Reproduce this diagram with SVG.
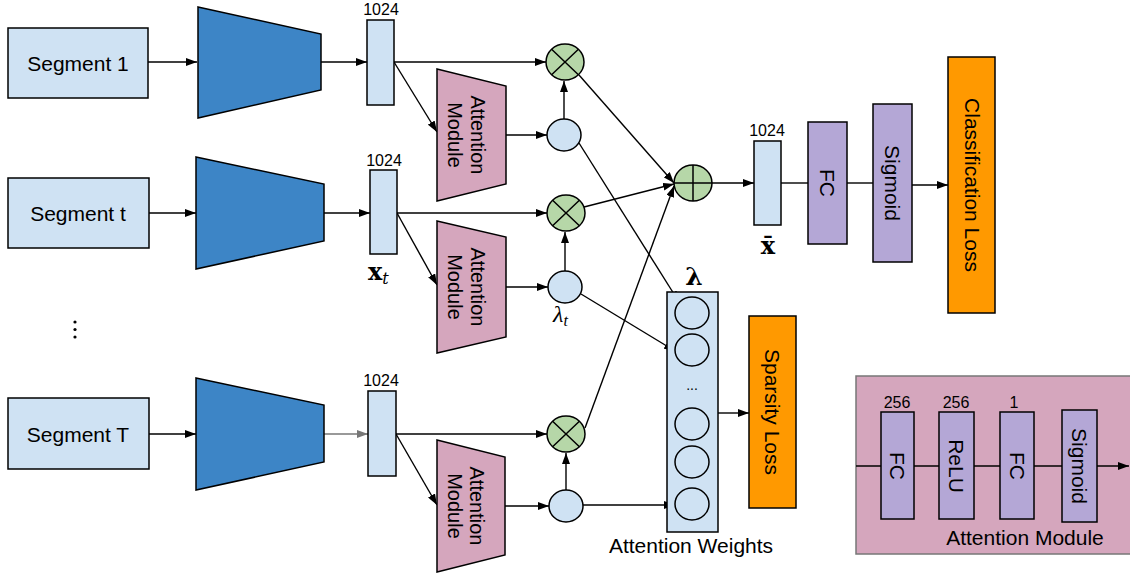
<svg xmlns="http://www.w3.org/2000/svg" width="1130" height="573" viewBox="0 0 1130 573">
<style>
.seg{fill:#cfe2f3;stroke:#000;stroke-width:1.5}
.enc{fill:#3d85c6;stroke:#000;stroke-width:1.5}
.vec{fill:#cfe2f3;stroke:#000;stroke-width:1.5}
.am{fill:#d5a6bd;stroke:#000;stroke-width:1.5}
.op{fill:#b6d7a8;stroke:#000;stroke-width:1.5}
.w{fill:#cfe2f3;stroke:#000;stroke-width:1.5}
.pur{fill:#b4a7d6;stroke:#000;stroke-width:1.5}
.loss{fill:#ff9900;stroke:#000;stroke-width:1.5}
.sym{stroke:#000;stroke-width:1.5;fill:none}
.t{font-family:"Liberation Sans",Arial,sans-serif;font-size:21px;fill:#000}
.n{font-family:"Liberation Sans",Arial,sans-serif;font-size:16px;fill:#000;text-anchor:middle}
.c{text-anchor:middle}
.m{font-family:"DejaVu Serif","Liberation Serif",serif;fill:#000}
.cn path,.cn line{stroke:#000;stroke-width:1.4;fill:none}
</style>
<defs>
<marker id="ah" markerUnits="userSpaceOnUse" markerWidth="11" markerHeight="8" refX="11" refY="4" orient="auto"><path d="M0,0 L11,4 L0,8 z" fill="#000"/></marker>
<marker id="ahg" markerUnits="userSpaceOnUse" markerWidth="11" markerHeight="8" refX="11" refY="4" orient="auto"><path d="M0,0 L11,4 L0,8 z" fill="#777"/></marker>
</defs>

<!-- connectors -->
<g id="connectors" class="cn">
<line x1="148" y1="62" x2="197" y2="62" marker-end="url(#ah)"/>
<line x1="321" y1="62" x2="367" y2="62" marker-end="url(#ah)"/>
<line x1="394" y1="62" x2="546" y2="62" marker-end="url(#ah)"/>
<line x1="394" y1="62" x2="437" y2="132" marker-end="url(#ah)"/>
<line x1="506" y1="135" x2="547" y2="135" marker-end="url(#ah)"/>
<line x1="564" y1="119" x2="564" y2="81" marker-end="url(#ah)"/>
<line x1="579" y1="75" x2="674" y2="183" marker-end="url(#ah)"/>
<line x1="579" y1="143" x2="679" y2="302" marker-end="url(#ah)"/>

<line x1="149" y1="213" x2="196" y2="213" marker-end="url(#ah)"/>
<line x1="324" y1="213" x2="370" y2="213" marker-end="url(#ah)"/>
<line x1="397" y1="213" x2="547" y2="213" marker-end="url(#ah)"/>
<line x1="397" y1="213" x2="437" y2="285" marker-end="url(#ah)"/>
<line x1="506" y1="287" x2="548" y2="287" marker-end="url(#ah)"/>
<line x1="565" y1="271" x2="565" y2="232" marker-end="url(#ah)"/>
<line x1="584" y1="207" x2="674" y2="184" marker-end="url(#ah)"/>
<line x1="581" y1="294" x2="675" y2="351" marker-end="url(#ah)"/>

<line x1="149" y1="434" x2="196" y2="434" marker-end="url(#ah)"/>
<line x1="324" y1="434" x2="368" y2="434" style="stroke:#777" marker-end="url(#ahg)"/>
<line x1="396" y1="434" x2="547" y2="434" marker-end="url(#ah)"/>
<line x1="396" y1="434" x2="437" y2="505" marker-end="url(#ah)"/>
<line x1="505" y1="506" x2="549" y2="506" marker-end="url(#ah)"/>
<line x1="566" y1="490" x2="566" y2="453" marker-end="url(#ah)"/>
<line x1="585" y1="428" x2="674" y2="186" marker-end="url(#ah)"/>
<line x1="583" y1="505" x2="675" y2="505" marker-end="url(#ah)"/>

<line x1="712" y1="183" x2="754" y2="183" marker-end="url(#ah)"/>
<line x1="781" y1="183" x2="808" y2="183"/>
<line x1="847" y1="183" x2="873" y2="183"/>
<line x1="912" y1="185" x2="948" y2="185" marker-end="url(#ah)"/>
<line x1="718" y1="413" x2="749" y2="413" marker-end="url(#ah)"/>
</g>

<!-- row 1 -->
<g id="segment1"><rect class="seg" x="8" y="28" width="140" height="70"/><text class="t c" x="78" y="71">Segment 1</text></g>
<g id="encoder1"><polygon class="enc" points="198,7 321,34 321,90 198,118"/></g>
<g id="feat1"><rect class="vec" x="367" y="20" width="27" height="85"/><text class="n" x="381" y="15">1024</text></g>
<g id="attn1"><polygon class="am" points="437,69 506,86 506,184 437,201"/>
<text class="t c" transform="translate(478,135) rotate(90)" dy="0.35em" style="font-size:20px">Attention</text>
<text class="t c" transform="translate(455,135) rotate(90)" dy="0.35em" style="font-size:20px">Module</text></g>
<g id="weight1"><ellipse class="w" cx="564" cy="135" rx="17" ry="16"/></g>
<g id="mult1"><ellipse class="op" cx="565" cy="62" rx="19" ry="18"/><path class="sym" d="M551.6,49.3 L578.4,74.7 M578.4,49.3 L551.6,74.7"/></g>

<!-- row 2 -->
<g id="segmentt"><rect class="seg" x="8" y="178" width="141" height="70"/><text class="t c" x="78" y="221">Segment t</text></g>
<g id="encoder2"><polygon class="enc" points="196,157 324,184 324,241 196,269"/></g>
<g id="feat2"><rect class="vec" x="370" y="170" width="27" height="84"/><text class="n" x="384" y="166">1024</text>
<text class="m" x="368" y="280" style="font-size:24px;font-weight:bold">x<tspan style="font-size:16px;font-weight:normal;font-style:italic" dy="4">t</tspan></text></g>
<g id="attn2"><polygon class="am" points="437,221 506,237 506,337 437,353"/>
<text class="t c" transform="translate(478,287) rotate(90)" dy="0.35em" style="font-size:20px">Attention</text>
<text class="t c" transform="translate(455,287) rotate(90)" dy="0.35em" style="font-size:20px">Module</text></g>
<g id="weight2"><ellipse class="w" cx="565" cy="287" rx="17" ry="16"/>
<text x="553" y="322" style="font-family:'Liberation Serif',serif;font-size:24px;font-style:italic">λ<tspan style="font-size:16px" dy="4">t</tspan></text></g>
<g id="mult2"><ellipse class="op" cx="566" cy="213" rx="19" ry="18"/><path class="sym" d="M552.6,200.3 L579.4,225.7 M579.4,200.3 L552.6,225.7"/></g>

<!-- dots -->
<g id="ellipsis"><circle cx="75" cy="322" r="1.6"/><circle cx="75" cy="329.5" r="1.6"/><circle cx="75" cy="337" r="1.6"/></g>

<!-- row 3 -->
<g id="segmentT"><rect class="seg" x="8" y="398" width="141" height="71"/><text class="t c" x="78" y="442">Segment T</text></g>
<g id="encoder3"><polygon class="enc" points="196,378 324,405 324,462 196,490"/></g>
<g id="feat3"><rect class="vec" x="368" y="391" width="28" height="85"/><text class="n" x="381" y="386">1024</text></g>
<g id="attn3"><polygon class="am" points="437,440 505,457 505,555 437,572"/>
<text class="t c" transform="translate(477,506) rotate(90)" dy="0.35em" style="font-size:20px">Attention</text>
<text class="t c" transform="translate(455,506) rotate(90)" dy="0.35em" style="font-size:20px">Module</text></g>
<g id="weight3"><ellipse class="w" cx="566" cy="506" rx="17" ry="16"/></g>
<g id="mult3"><ellipse class="op" cx="566" cy="434" rx="19" ry="18"/><path class="sym" d="M552.6,421.3 L579.4,446.7 M579.4,421.3 L552.6,446.7"/></g>

<!-- sum and head -->
<g id="sum"><ellipse class="op" cx="693" cy="183" rx="19" ry="18"/><path class="sym" d="M693,165 L693,201 M674,183 L712,183"/></g>
<g id="xbar"><rect class="vec" x="754" y="141" width="27" height="84"/><text class="n" x="767" y="136">1024</text>
<text class="m c" x="768" y="254" style="font-size:24px;font-weight:bold">x̄</text></g>
<g id="fc"><rect class="pur" x="808" y="122" width="39" height="122"/><text class="t c" transform="translate(827.5,183) rotate(90)" dy="0.35em">FC</text></g>
<g id="sigmoid"><rect class="pur" x="873" y="104" width="39" height="158"/><text class="t c" transform="translate(892.5,183) rotate(90)" dy="0.35em">Sigmoid</text></g>
<g id="clsloss"><rect class="loss" x="948" y="57" width="47" height="256"/><text class="t c" transform="translate(972,185) rotate(90)" dy="0.35em">Classification Loss</text></g>

<!-- attention weights -->
<g id="weights"><rect class="w" x="667" y="292" width="51" height="240"/>
<ellipse class="w" cx="692" cy="313" rx="17" ry="16"/>
<ellipse class="w" cx="692" cy="350" rx="17" ry="16"/>
<ellipse class="w" cx="692" cy="424" rx="17" ry="16"/>
<ellipse class="w" cx="692" cy="462" rx="17" ry="16"/>
<ellipse class="w" cx="692" cy="504" rx="17" ry="16"/>
<text class="t c" x="692" y="390" style="font-size:14px">...</text>
<text class="m c" x="694" y="285" style="font-size:25px;font-weight:bold">λ</text>
<text class="t c" x="691" y="553">Attention Weights</text></g>
<g id="sparsity"><rect class="loss" x="749" y="316" width="47" height="192"/><text class="t c" transform="translate(772.5,412) rotate(90)" dy="0.35em">Sparsity Loss</text></g>

<!-- attention module detail -->
<g id="attnmodule"><rect x="856" y="376" width="280" height="178" fill="#d5a6bd" stroke="#777" stroke-width="1.5"/>
<line x1="856" y1="466" x2="1129" y2="466" stroke="#000" stroke-width="1.4" marker-end="url(#ah)"/>
<rect class="pur" x="881" y="412" width="33" height="107"/><text class="t c" transform="translate(897.5,466) rotate(90)" dy="0.35em">FC</text><text class="n" x="897" y="408">256</text>
<rect class="pur" x="939" y="412" width="35" height="107"/><text class="t c" transform="translate(956.5,466) rotate(90)" dy="0.35em">ReLU</text><text class="n" x="956" y="408">256</text>
<rect class="pur" x="1000" y="412" width="34" height="107"/><text class="t c" transform="translate(1017,466) rotate(90)" dy="0.35em">FC</text><text class="n" x="1014" y="408">1</text>
<rect class="pur" x="1062" y="410" width="35" height="112"/><text class="t c" transform="translate(1079.5,466) rotate(90)" dy="0.35em">Sigmoid</text>
<text class="t c" x="1025" y="545">Attention Module</text></g>
</svg>
